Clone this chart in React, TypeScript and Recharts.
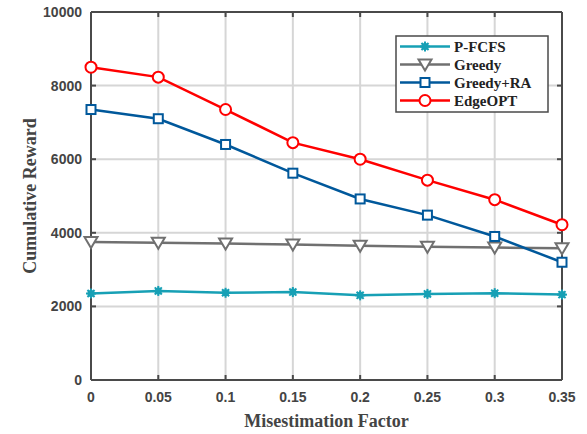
import React from "react";
import { LineChart, Line, XAxis, YAxis, CartesianGrid, ReferenceLine } from "recharts";

const factors = [0, 0.05, 0.1, 0.15, 0.2, 0.25, 0.3, 0.35];
const pfcfs = [2350, 2420, 2370, 2390, 2300, 2340, 2360, 2320];
const greedy = [3750, 3730, 3710, 3680, 3650, 3620, 3600, 3580];
const greedyRA = [7350, 7100, 6400, 5620, 4920, 4480, 3900, 3200];
const edgeOPT = [8500, 8230, 7350, 6450, 6000, 5430, 4900, 4220];
const yTicks = [0, 2000, 4000, 6000, 8000, 10000];

const data = factors.map((f, i) => ({
  f,
  pfcfs: pfcfs[i],
  greedy: greedy[i],
  greedyRA: greedyRA[i],
  edgeOPT: edgeOPT[i],
}));

const AXIS = "#4a4a4a";
const GRID = "#d6d6d6";
const TICK_FONT = "'Liberation Sans', Arial, sans-serif";
const SERIF = "'Liberation Serif', 'Times New Roman', serif";
// plot box size, only used for the inward ticks on the top/right edges
const PLOT_W = 471;
const PLOT_H = 368;

const series = [
  { key: "pfcfs", name: "P-FCFS", color: "#17a0b5", marker: "star" },
  { key: "greedy", name: "Greedy", color: "#707070", marker: "tri" },
  { key: "greedyRA", name: "Greedy+RA", color: "#00589b", marker: "square" },
  { key: "edgeOPT", name: "EdgeOPT", color: "#ff0000", marker: "circle" },
];

function Marker({ cx, cy, type, color }: { cx: number; cy: number; type: string; color: string }) {
  if (cx == null || cy == null) return null;
  if (type === "star") {
    const r = 5;
    const spokes = [0, 45, 90, 135].map((a) => {
      const rad = (a * Math.PI) / 180;
      return (
        <line key={a} x1={cx - r * Math.cos(rad)} y1={cy - r * Math.sin(rad)} x2={cx + r * Math.cos(rad)} y2={cy + r * Math.sin(rad)} stroke={color} strokeWidth={2} />
      );
    });
    return (
      <g>
        {spokes}
        <circle cx={cx} cy={cy} r={3.5} fill={color} />
      </g>
    );
  }
  if (type === "tri") {
    return <path d={`M${cx - 6.5},${cy - 5} L${cx + 6.5},${cy - 5} L${cx},${cy + 6} Z`} fill="#fff" stroke={color} strokeWidth={2} />;
  }
  if (type === "square") {
    return <rect x={cx - 4.5} y={cy - 4.5} width={9} height={9} fill="#fff" stroke={color} strokeWidth={2} />;
  }
  return <circle cx={cx} cy={cy} r={5.5} fill="#fff" stroke={color} strokeWidth={2} />;
}

const fmt = (v: number) => String(v);

// inward ticks on left + right edge, then the label
function LeftTick(props: any) {
  const { x, y, payload } = props;
  const ax = x + 8;
  return (
    <g>
      <line x1={ax} x2={ax + 5} y1={y} y2={y} stroke={AXIS} strokeWidth={2} />
      <line x1={ax + PLOT_W - 5} x2={ax + PLOT_W} y1={y} y2={y} stroke={AXIS} strokeWidth={2} />
      <text x={x - 1} y={y} dy={5} textAnchor="end" fontFamily={TICK_FONT} fontWeight="bold" fontSize={14} fill="#444">
        {fmt(payload.value)}
      </text>
    </g>
  );
}

// inward ticks on bottom + top edge, then the label
function BottomTick(props: any) {
  const { x, y, payload } = props;
  const ay = y - 8;
  return (
    <g>
      <line x1={x} x2={x} y1={ay} y2={ay - 5} stroke={AXIS} strokeWidth={2} />
      <line x1={x} x2={x} y1={ay - PLOT_H} y2={ay - PLOT_H + 5} stroke={AXIS} strokeWidth={2} />
      <text x={x} y={y} dy={14} textAnchor="middle" fontFamily={TICK_FONT} fontWeight="bold" fontSize={14} fill="#444">
        {fmt(payload.value)}
      </text>
    </g>
  );
}

function LegendBox() {
  return (
    <svg width={154} height={78} style={{ display: "block" }}>
      <rect x={1} y={1} width={152} height={76} fill="#fff" stroke={AXIS} strokeWidth={1.5} />
      {series.map((s, i) => {
        const y = 11.5 + i * 18;
        return (
          <g key={s.key}>
            <line x1={5} x2={55} y1={y} y2={y} stroke={s.color} strokeWidth={2.5} />
            <Marker cx={30} cy={y} type={s.marker} color={s.color} />
            <text x={59} y={y} dy={5} fontFamily={SERIF} fontWeight="bold" fontSize={15} fill="#222">
              {s.name}
            </text>
          </g>
        );
      })}
    </svg>
  );
}

export default function App() {
  return (
    <div style={{ position: "absolute", left: 0, top: 0, width: 587, height: 434, background: "#fff" }}>
      <LineChart width={587} height={434} data={data} margin={{ top: 12, right: 25, bottom: 0, left: 0 }}>
        <CartesianGrid stroke={GRID} strokeWidth={2} />
        <XAxis
          dataKey="f"
          type="number"
          domain={[0, 0.35]}
          ticks={factors}
          height={54}
          axisLine={{ stroke: AXIS, strokeWidth: 2 }}
          tickLine={false}
          tickSize={0}
          tickMargin={8}
          tick={<BottomTick />}
          interval={0}
          label={{ value: "Misestimation Factor", position: "insideBottom", offset: 7, style: { fontFamily: SERIF, fontWeight: "bold", fontSize: 18, fill: "#444" } }}
        />
        <YAxis
          type="number"
          domain={[0, 10000]}
          ticks={yTicks}
          width={91}
          axisLine={{ stroke: AXIS, strokeWidth: 2 }}
          tickLine={false}
          tickSize={0}
          tickMargin={8}
          tick={<LeftTick />}
          interval={0}
          label={{ value: "Cumulative Reward", angle: -90, position: "insideLeft", offset: 30, style: { textAnchor: "middle", fontFamily: SERIF, fontWeight: "bold", fontSize: 18, fill: "#444" } }}
        />
        <ReferenceLine y={10000} stroke={AXIS} strokeWidth={2} />
        <ReferenceLine x={0.35} stroke={AXIS} strokeWidth={2} />
        {series.map((s) => (
          <Line
            key={s.key}
            dataKey={s.key}
            name={s.name}
            stroke={s.color}
            strokeWidth={2.5}
            isAnimationActive={false}
            dot={(p: any) => <Marker key={`${s.key}-${p.index}`} cx={p.cx} cy={p.cy} type={s.marker} color={s.color} />}
            activeDot={false}
          />
        ))}
      </LineChart>
      <div style={{ position: "absolute", left: 395, top: 35 }}>
        <LegendBox />
      </div>
    </div>
  );
}
